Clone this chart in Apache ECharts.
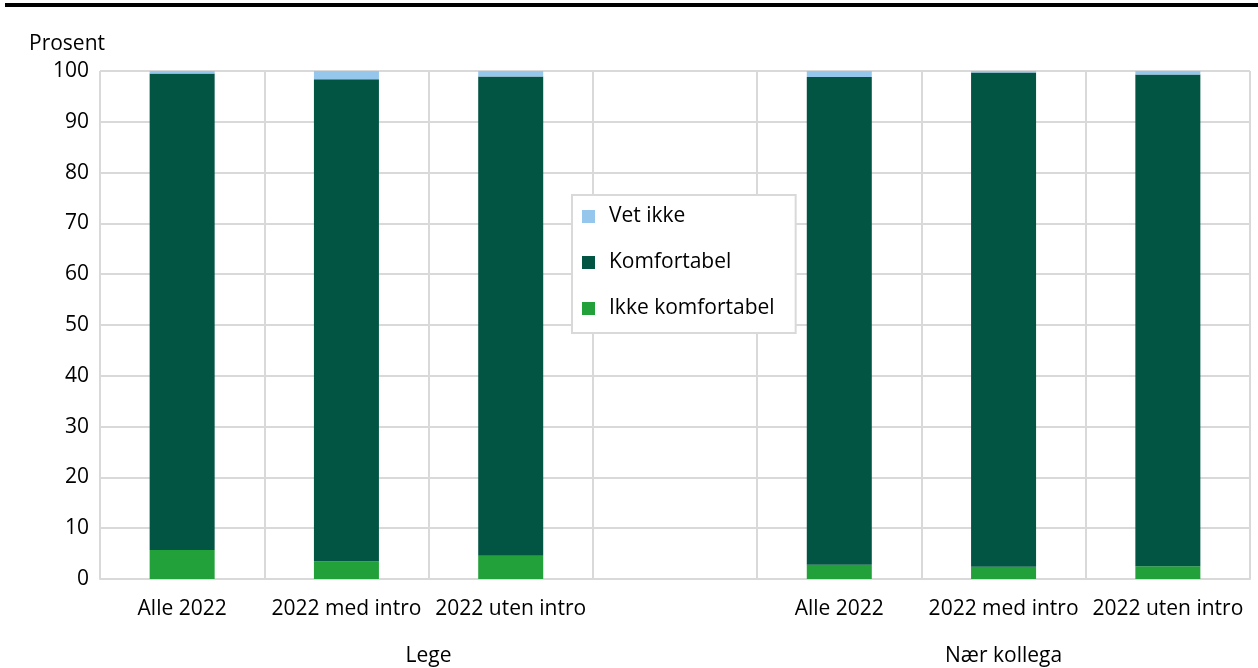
<!DOCTYPE html>
<html>
<head>
<meta charset="utf-8">
<script src="https://cdn.jsdelivr.net/npm/echarts@6/dist/echarts.min.js"></script>
<style>
  html, body { margin: 0; padding: 0; background: #fff; }
  #chart { width: 1258px; height: 668px; }
</style>
</head>
<body>
<div id="chart"></div>
<script>
// kategorier (tom plass mellom gruppene)
var categories = ["Alle 2022", "2022 med intro", "2022 uten intro", "", "Alle 2022", "2022 med intro", "2022 uten intro"];
var groups = ["Lege", "Nær kollega"];
var yTicks = [0, 10, 20, 30, 40, 50, 60, 70, 80, 90, 100];

var ikkeKomfortabel = [5.7, 3.5, 4.6, null, 2.8, 2.4, 2.5];
var komfortabel = [93.8, 94.9, 94.3, null, 96.0, 97.3, 96.8];
var vetIkke = [0.5, 1.6, 1.1, null, 1.2, 0.3, 0.7];

var font = "'Open Sans', 'Noto Sans', sans-serif";
var fs = 21;
var gridColor = "#d9d9d9";

var myChart = echarts.init(document.getElementById("chart"));
myChart.setOption({
  backgroundColor: "#ffffff",
  textStyle: { fontFamily: font, color: "#000000" },
  animation: false,
  grid: { left: 100, right: 8, top: 71, bottom: 89 },
  legend: {
    data: ["Vet ikke", "Komfortabel", "Ikke komfortabel"],
    orient: "vertical",
    left: 572,
    top: 195,
    itemWidth: 13,
    itemHeight: 13,
    itemGap: 25,
    padding: [11, 21, 14, 10],
    borderColor: gridColor,
    borderWidth: 2,
    backgroundColor: "#ffffff",
    icon: "rect",
    textStyle: { fontFamily: font, fontSize: fs, color: "#000000", padding: [0, 0, 0, 9] }
  },
  xAxis: [
    {
      type: "category",
      data: categories,
      axisLine: { lineStyle: { color: gridColor, width: 2 } },
      axisTick: { show: false },
      axisLabel: { fontSize: fs, color: "#000000", margin: 20, interval: 0 },
      splitLine: { show: true, interval: 0, lineStyle: { color: gridColor, width: 2 } }
    },
    {
      // gruppetekster under kategoriene
      type: "value",
      position: "bottom",
      min: 0,
      max: 7,
      interval: 0.5,
      axisLine: { show: false },
      axisTick: { show: false },
      splitLine: { show: false },
      axisLabel: {
        fontSize: fs,
        color: "#000000",
        margin: 67,
        showMinLabel: false,
        showMaxLabel: false,
        formatter: function (v) {
          if (v === 2) return groups[0];
          if (v === 5.5) return groups[1];
          return "";
        }
      }
    }
  ],
  yAxis: {
    type: "value",
    min: 0,
    max: 100,
    interval: 10,
    name: "Prosent",
    nameGap: 16,
    nameTextStyle: { fontSize: fs, color: "#000000", align: "center", padding: [0, 66, 0, 0] },
    axisLine: { show: false },
    axisTick: { show: false },
    axisLabel: {
      fontSize: fs,
      color: "#000000",
      margin: 11,
      formatter: function (v) { return yTicks.indexOf(v) >= 0 ? String(v) : ""; }
    },
    splitLine: { lineStyle: { color: gridColor, width: 2 } }
  },
  series: [
    {
      name: "Ikke komfortabel",
      type: "bar",
      stack: "total",
      barWidth: 65,
      data: ikkeKomfortabel,
      itemStyle: { color: "#22a03a" }
    },
    {
      name: "Komfortabel",
      type: "bar",
      stack: "total",
      barWidth: 65,
      data: komfortabel,
      itemStyle: { color: "#025443" }
    },
    {
      name: "Vet ikke",
      type: "bar",
      stack: "total",
      barWidth: 65,
      data: vetIkke,
      itemStyle: { color: "#95c6ec" }
    }
  ],
  graphic: [
    {
      type: "line",
      shape: { x1: 5, y1: 5, x2: 1258, y2: 5 },
      style: { stroke: "#000000", lineWidth: 4 }
    }
  ]
});
</script>
</body>
</html>
